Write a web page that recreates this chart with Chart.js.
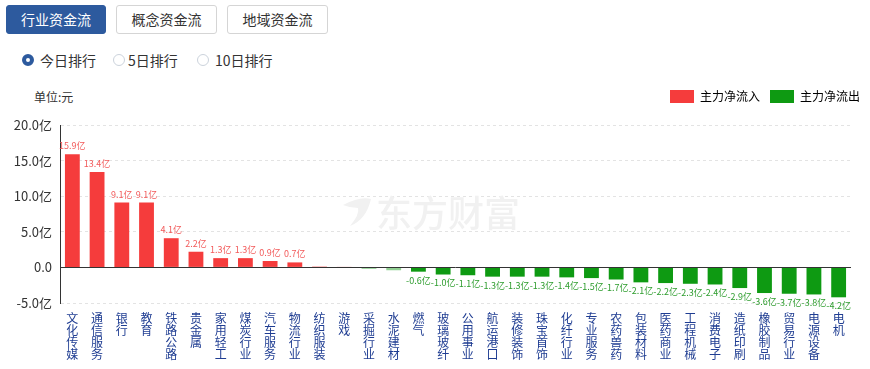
<!DOCTYPE html>
<html>
  <head>
    <meta charset="utf-8">
    <style>
      body {
        margin: 0;
        width: 870px;
        height: 369px;
        background: #fff;
        font-family: "Noto Sans CJK SC", "Noto Sans", sans-serif;
        position: relative;
        overflow: hidden;
      }
      .tab {
        position: absolute;
        top: 5px;
        height: 29px;
        width: 100px;
        box-sizing: border-box;
        border: 1px solid #d5d5d5;
        border-radius: 3px;
        font-size: 14px;
        line-height: 27px;
        text-align: center;
        color: #333;
        background: #fff;
      }
      .tab.on {
        background: #2d5a9e;
        border-color: #2d5a9e;
        color: #fff;
      }
      .radio {
        position: absolute;
        top: 51px;
        font-size: 14px;
        line-height: 18px;
        color: #333;
      }
      .dot {
        position: absolute;
        top: 3px;
        width: 12px;
        height: 12px;
        box-sizing: border-box;
        border-radius: 50%;
        border: 1px solid #ccd3dc;
      }
      .dot.on {
        border: 4px solid #2d5a9e;
      }
      #unit {
        position: absolute;
        left: 34px;
        top: 88px;
        font-size: 12px;
        color: #333;
      }
      #chartContainer {
        position: absolute;
        left: 0;
        top: 80px;
        width: 870px;
        height: 289px;
      }
    </style>
  </head>

  <body>
    <div class="tab on" style="left:6px">行业资金流</div>
    <div class="tab" style="left:116px;width:101px">概念资金流</div>
    <div class="tab" style="left:227px;width:101px">地域资金流</div>

    <div class="radio" style="left:22px"><span class="dot on" style="left:0"></span><span style="margin-left:18px">今日排行</span></div>
    <div class="radio" style="left:113px"><span class="dot" style="left:0"></span><span style="margin-left:15px">5日排行</span></div>
    <div class="radio" style="left:197px"><span class="dot" style="left:0"></span><span style="margin-left:18px">10日排行</span></div>

    <div id="unit">单位:元</div>

    <div id="chartContainer">
      <canvas id="myChart"></canvas>
    </div>

    <script src="https://cdn.jsdelivr.net/npm/chart.js"></script>
    <script>
      const ctx = document.getElementById('myChart');

      // 行业 (sorted by net flow, 亿元)
      const industries = [
        '文化传媒', '通信服务', '银行', '教育', '铁路公路', '贵金属', '家用轻工', '煤炭行业',
        '汽车服务', '物流行业', '纺织服装', '游戏', '采掘行业', '水泥建材', '燃气', '玻璃玻纤',
        '公用事业', '航运港口', '装修装饰', '珠宝首饰', '化纤行业', '专业服务', '农药兽药', '包装材料',
        '医药商业', '工程机械', '消费电子', '造纸印刷', '橡胶制品', '贸易行业', '电源设备', '电机'
      ];
      const netFlow = [
        15.9, 13.4, 9.1, 9.1, 4.1, 2.2, 1.3, 1.3,
        0.9, 0.7, 0.2, 0.1, -0.2, -0.4, -0.6, -1.0,
        -1.1, -1.3, -1.3, -1.3, -1.4, -1.5, -1.7, -2.1,
        -2.2, -2.3, -2.4, -2.9, -3.6, -3.7, -3.8, -4.2
      ];
      const yTicks = [-5, 0, 5, 10, 15, 20];

      const RED = '#f53c3c';
      const GREEN = '#0e9a12';
      const fontFamily = '"Noto Sans CJK SC", "Noto Sans", sans-serif';

      // split each name into single chars so labels stack vertically
      const verticalLabels = industries.map(s => s.split(''));

      function barColor(v) {
        if (Math.abs(v) < 0.5) return v >= 0 ? 'rgba(245,60,60,0.35)' : 'rgba(14,154,18,0.45)';
        return v >= 0 ? RED : GREEN;
      }

      // extra gap between legend and plot
      const legendGap = {
        id: 'legendGap',
        beforeInit(chart) {
          const origFit = chart.legend.fit;
          chart.legend.fit = function () {
            origFit.bind(chart.legend)();
            this.height += 12;
          };
        }
      };

      const extras = {
        id: 'extras',
        beforeDatasetsDraw(chart) {
          const c = chart.ctx;
          c.save();
          // watermark
          c.fillStyle = '#f1f1f1';
          c.font = '500 36px ' + fontFamily;
          c.textAlign = 'center';
          c.textBaseline = 'middle';
          c.fillText('东方财富', 448, 133);
          c.beginPath();
          c.moveTo(343, 125);
          c.quadraticCurveTo(360, 116, 371, 119);
          c.quadraticCurveTo(366, 140, 350, 146);
          c.quadraticCurveTo(360, 134, 358, 128);
          c.quadraticCurveTo(350, 128, 343, 125);
          c.fill();
          c.restore();
        },
        afterDatasetsDraw(chart) {
          const c = chart.ctx;
          const y = chart.scales.y;
          const a = chart.chartArea;
          const y0 = Math.round(y.getPixelForValue(0)) + 0.5;
          c.save();
          c.strokeStyle = '#333';
          c.lineWidth = 1;
          c.beginPath();
          c.moveTo(a.left, y0);
          c.lineTo(a.right, y0);
          c.stroke();

          // value labels
          c.font = '9px ' + fontFamily;
          c.textAlign = 'center';
          const meta = chart.getDatasetMeta(0);
          meta.data.forEach((bar, i) => {
            const v = netFlow[i];
            if (Math.abs(v) < 0.5) return;
            const txt = v.toFixed(1) + '亿';
            if (v > 0) {
              c.fillStyle = '#f25a5a';
              c.textBaseline = 'bottom';
              c.fillText(txt, bar.x, bar.y - 4);
            } else {
              c.fillStyle = '#2d9c2d';
              c.textBaseline = 'top';
              c.fillText(txt, bar.x, bar.y + 4);
            }
          });
          c.restore();
        }
      };

      const netChart = new Chart(ctx, {
        type: 'bar',
        data: {
          labels: verticalLabels,
          datasets: [
            {
              label: '主力净流入',
              data: netFlow,
              backgroundColor: netFlow.map(barColor),
              grouped: false,
              categoryPercentage: 1,
              barPercentage: 0.6
            }
          ]
        },
        options: {
          responsive: true,
          maintainAspectRatio: false,
          animation: false,
          layout: {
            padding: { top: 0, right: 0, bottom: 0, left: 0 }
          },
          plugins: {
            legend: {
              position: 'top',
              align: 'end',
              onClick: null,
              labels: {
                boxWidth: 24,
                boxHeight: 13,
                useBorderRadius: true,
                borderRadius: 3,
                color: '#333',
                padding: 10,
                font: { size: 12, family: fontFamily },
                generateLabels(chart) {
                  return [
                    { text: '主力净流入', fillStyle: RED, strokeStyle: RED, lineWidth: 0, datasetIndex: 0 },
                    { text: '主力净流出', fillStyle: GREEN, strokeStyle: GREEN, lineWidth: 0, datasetIndex: 0 }
                  ];
                }
              }
            },
            tooltip: { enabled: false }
          },
          scales: {
            x: {
              grid: { display: false },
              border: { display: false },
              ticks: {
                color: '#1f3d92',
                maxRotation: 0,
                autoSkip: false,
                padding: 2,
                font: { size: 12, family: fontFamily, lineHeight: 0.98 }
              },
              afterFit(scale) {
                scale.height = 66;
              }
            },
            y: {
              min: -5,
              max: 20,
              afterBuildTicks(scale) {
                scale.ticks = yTicks.map(v => ({ value: v }));
              },
              grid: {
                color: '#e3e3e3',
                drawTicks: false
              },
              border: {
                display: true,
                color: '#333',
                dash: [3, 3]
              },
              ticks: {
                color: '#333',
                padding: 8,
                font: { size: 13, family: fontFamily },
                callback: v => v === 0 ? '0.0' : v.toFixed(1) + '亿'
              },
              afterFit(scale) {
                scale.width = 60;
              }
            },
            yR: {
              position: 'right',
              grid: { display: false },
              border: { display: false },
              ticks: { display: false },
              afterFit(scale) {
                scale.width = 19;
              }
            }
          }
        },
        plugins: [legendGap, extras]
      });
    </script>
  </body>
</html>
